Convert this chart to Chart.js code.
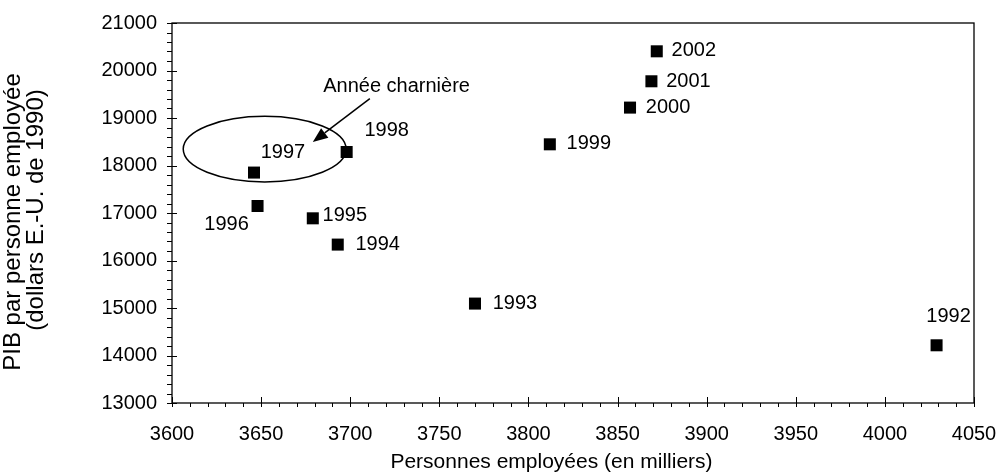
<!DOCTYPE html>
<html>
<head>
<meta charset="utf-8">
<script src="https://cdn.jsdelivr.net/npm/chart.js@4"></script>
<style>
	body { margin: 0; background: #fff; }
	canvas { display: block; }
</style>
</head>
<body>
<canvas id="chart" width="999" height="475"></canvas>
<script>
"use strict";

// Data
const years = ["1992", "1993", "1994", "1995", "1996", "1997", "1998", "1999", "2000", "2001", "2002"];
const employed = [4029, 3770, 3693, 3679, 3648, 3646, 3698, 3812, 3857, 3869, 3872];
const gdpPerWorker = [14215, 15093, 16335, 16888, 17147, 17851, 18284, 18446, 19219, 19773, 20404];

const xTitle = "Personnes employées (en milliers)";
const yTitle = ["PIB par personne employée", "(dollars E.-U. de 1990)"];
const noteText = "Année charnière";

const FONT = "'Liberation Sans', Arial, sans-serif";

// where each year label sits relative to its marker (px)
const labelOffsets = {
	"1992": [12, -29],
	"1993": [40, 0],
	"1994": [40, 0],
	"1995": [32, -3],
	"1996": [-31, 18],
	"1997": [29, -20],
	"1998": [40, -22],
	"1999": [39, -1],
	"2000": [38, 0],
	"2001": [37, 0],
	"2002": [37, -1],
};

// the "turning point" note, in data units
const note = {
	ellipse: { x: 3652, y: 18345, rx: 45.7, ry: 690 },
	arrowFrom: { x: 3711, y: 19408 },
	arrowTo: { x: 3679, y: 18495 },
	text: { x: 3726, y: 19665 },
};

const decorPlugin = {
	id: "decor",
	afterDraw(chart) {
		const ctx = chart.ctx;
		const xs = chart.scales.x;
		const ys = chart.scales.y;
		const area = chart.chartArea;
		const px = v => xs.getPixelForValue(v);
		const py = v => ys.getPixelForValue(v);
		
		ctx.save();
		ctx.strokeStyle = "#000";
		ctx.fillStyle = "#000";
		ctx.lineWidth = 1.3;
		
		// frame
		ctx.strokeRect(area.left, area.top, area.right - area.left, area.bottom - area.top);
		
		// x ticks: major cross the axis, minor only outside
		ctx.lineWidth = 1;
		ctx.beginPath();
		for (let v = xs.min; v <= xs.max + 0.001; v += 10) {
			const x = Math.round(px(v)) + 0.5;
			const major = Math.abs(v % 50) < 0.001;
			ctx.moveTo(x, area.bottom + 4);
			ctx.lineTo(x, major ? area.bottom - 6 : area.bottom);
		}
		// y ticks
		for (let v = ys.min; v <= ys.max + 0.001; v += 200) {
			const y = Math.round(py(v)) + 0.5;
			const major = Math.abs(v % 1000) < 0.001;
			ctx.moveTo(area.left - 5, y);
			ctx.lineTo(major ? area.left + 5 : area.left, y);
		}
		ctx.stroke();
		
		// year labels
		ctx.font = `20px ${FONT}`;
		ctx.textAlign = "center";
		ctx.textBaseline = "middle";
		for (let i = 0; i < years.length; ++i) {
			const off = labelOffsets[years[i]];
			ctx.fillText(years[i], px(employed[i]) + off[0], py(gdpPerWorker[i]) + off[1]);
		}
		
		// ellipse
		const e = note.ellipse;
		const cx = px(e.x), cy = py(e.y);
		const rx = Math.abs(px(e.x + e.rx) - cx);
		const ry = Math.abs(py(e.y + e.ry) - cy);
		ctx.lineWidth = 1.5;
		ctx.beginPath();
		ctx.ellipse(cx, cy, rx, ry, 0, 0, Math.PI * 2);
		ctx.stroke();
		
		// arrow
		const x0 = px(note.arrowFrom.x), y0 = py(note.arrowFrom.y);
		const x1 = px(note.arrowTo.x), y1 = py(note.arrowTo.y);
		const ang = Math.atan2(y1 - y0, x1 - x0);
		const headLen = 15, headW = 6;
		const bx = x1 - headLen * Math.cos(ang), by = y1 - headLen * Math.sin(ang);
		ctx.beginPath();
		ctx.moveTo(x0, y0);
		ctx.lineTo(bx, by);
		ctx.stroke();
		ctx.beginPath();
		ctx.moveTo(x1, y1);
		ctx.lineTo(bx + headW * Math.sin(ang), by - headW * Math.cos(ang));
		ctx.lineTo(bx - headW * Math.sin(ang), by + headW * Math.cos(ang));
		ctx.closePath();
		ctx.fill();
		
		ctx.fillText(noteText, px(note.text.x), py(note.text.y));
		
		// axis titles (the original places them a bit off the plot centre)
		ctx.font = `21px ${FONT}`;
		ctx.fillText(xTitle, 551.5, 462);
		
		ctx.font = `24px ${FONT}`;
		ctx.save();
		ctx.translate(13, 222);
		ctx.rotate(-Math.PI / 2);
		ctx.fillText(yTitle[0], 0, 0);
		ctx.restore();
		ctx.save();
		ctx.translate(36, 210);
		ctx.rotate(-Math.PI / 2);
		ctx.fillText(yTitle[1], 0, 0);
		ctx.restore();
		
		ctx.restore();
	},
};

const points = years.map((_, i) => ({ x: employed[i], y: gdpPerWorker[i] }));

new Chart(document.getElementById("chart"), {
	type: "scatter",
	data: {
		datasets: [
			{
				data: points,
				pointStyle: "rect",
				pointRadius: 8.5,
				pointHoverRadius: 8.5,
				backgroundColor: "#000",
				borderColor: "#000",
				borderWidth: 0,
			},
		],
	},
	options: {
		responsive: false,
		animation: false,
		devicePixelRatio: 1,
		layout: { padding: { top: 23, right: 25, bottom: 0, left: 0 } },
		plugins: {
			legend: { display: false },
			tooltip: { enabled: false },
		},
		scales: {
			x: {
				type: "linear",
				min: 3600,
				max: 4050,
				afterFit: s => {
					s.height = 72;
					s.paddingLeft = 0;
					s.paddingRight = 0;
				},
				grid: { display: false, drawTicks: false },
				border: { display: false },
				ticks: {
					stepSize: 50,
					padding: 19,
					color: "#000",
					font: { family: FONT, size: 20 },
					callback: v => String(v),
				},
			},
			y: {
				type: "linear",
				min: 13000,
				max: 21000,
				afterFit: s => {
					s.width = 172;
					s.paddingTop = 0;
					s.paddingBottom = 0;
				},
				grid: { display: false, drawTicks: false },
				border: { display: false },
				ticks: {
					stepSize: 1000,
					padding: 15,
					color: "#000",
					font: { family: FONT, size: 20 },
					callback: v => String(v),
				},
			},
		},
	},
	plugins: [decorPlugin],
});
</script>
</body>
</html>
